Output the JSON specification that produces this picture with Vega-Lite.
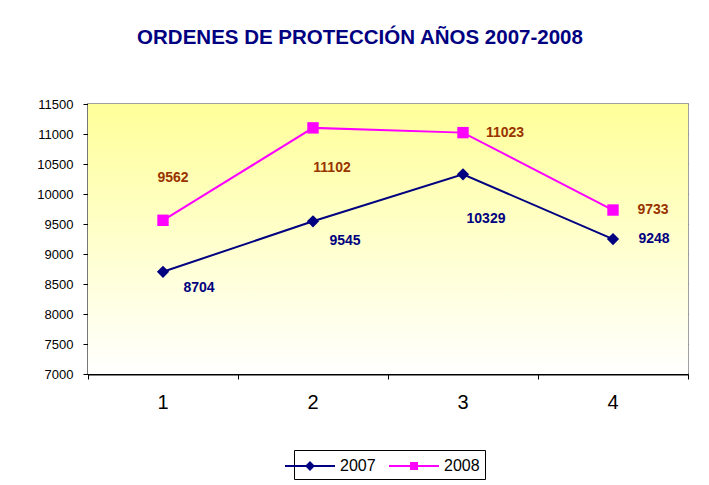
{
  "$schema": "https://vega.github.io/schema/vega-lite/v6.json",
  "width": 600,
  "height": 270,
  "autosize": {"type": "none"},
  "padding": {"left": 88, "top": 104, "right": 21, "bottom": 111},
  "background": "#FFFFFF",
  "config": {
    "font": "Liberation Sans",
    "view": {"stroke": "#A0A0A0", "strokeWidth": 2}
  },
  "title": {
    "text": "ORDENES DE PROTECCIÓN AÑOS 2007-2008",
    "font": "Liberation Sans",
    "fontSize": 20.5,
    "fontWeight": "bold",
    "color": "#000080",
    "anchor": "middle",
    "dx": -28,
    "baseline": "alphabetic",
    "offset": 34
  },
  "data": {
    "values": [
      {"x": "1", "serie": "2007", "valor": 8704},
      {"x": "2", "serie": "2007", "valor": 9545},
      {"x": "3", "serie": "2007", "valor": 10329},
      {"x": "4", "serie": "2007", "valor": 9248},
      {"x": "1", "serie": "2008", "valor": 9562},
      {"x": "2", "serie": "2008", "valor": 11102},
      {"x": "3", "serie": "2008", "valor": 11023},
      {"x": "4", "serie": "2008", "valor": 9733}
    ]
  },
  "encoding": {
    "x": {
      "field": "x",
      "type": "ordinal",
      "scale": {"type": "band", "paddingInner": 0, "paddingOuter": 0},
      "axis": {
        "title": null,
        "labelAngle": 0,
        "labelFontSize": 20,
        "labelColor": "#000000",
        "labelPadding": 13,
        "bandPosition": 1,
        "tickExtra": true,
        "labelOffset": 0,
        "tickSize": 5,
        "tickColor": "#000000",
        "domainColor": "#000000",
        "domainWidth": 2,
        "grid": false
      }
    },
    "y": {
      "field": "valor",
      "type": "quantitative",
      "scale": {"domain": [7000, 11500], "nice": false, "zero": false},
      "axis": {
        "title": null,
        "values": [7000, 7500, 8000, 8500, 9000, 9500, 10000, 10500, 11000, 11500],
        "format": "d",
        "labelFontSize": 13,
        "labelColor": "#000000",
        "labelPadding": 10,
        "tickSize": 5,
        "tickColor": "#000000",
        "domainColor": "#000000",
        "domainWidth": 1.5,
        "grid": true,
        "gridColor": "#787878",
        "gridOpacity": 1,
        "gridWidth": 1
      }
    }
  },
  "layer": [
    {
      "mark": {
        "type": "rect",
        "color": {
          "gradient": "linear",
          "x1": 0, "y1": 0, "x2": 0, "y2": 1,
          "stops": [
            {"offset": 0, "color": "#FFFF99"},
            {"offset": 1, "color": "#FFFFFF"}
          ]
        }
      },
      "encoding": {"x": null, "y": null}
    },
    {
      "mark": {"type": "line", "strokeWidth": 2},
      "encoding": {
        "color": {
          "field": "serie",
          "type": "nominal",
          "scale": {"domain": ["2007", "2008"], "range": ["#000080", "#FF00FF"]},
          "legend": {
            "title": null, "orient": "none", "direction": "horizontal",
            "legendX": 206, "legendY": 346,
            "strokeColor": "#000000", "fillColor": "#FFFFFF", "padding": 5,
            "labelFontSize": 16, "labelColor": "#000000", "labelFont": "Liberation Sans",
            "symbolSize": 400, "symbolStrokeWidth": 2, "symbolOpacity": 1,
            "labelOffset": 19, "columnPadding": 9
          }
        }
      }
    },
    {
      "mark": {"type": "point", "filled": false, "opacity": 0, "strokeWidth": 2},
      "encoding": {
        "color": {
          "field": "serie",
          "type": "nominal",
          "legend": {
            "title": null, "orient": "none", "direction": "horizontal",
            "legendX": 206, "legendY": 346,
            "strokeColor": "#000000", "fillColor": "#FFFFFF", "padding": 5,
            "labelFontSize": 16, "labelColor": "#000000", "labelFont": "Liberation Sans",
            "symbolSize": 400, "symbolStrokeWidth": 2, "symbolOpacity": 1,
            "labelOffset": 19, "columnPadding": 9
          }
        },
        "shape": {
          "field": "serie",
          "type": "nominal",
          "scale": {
            "domain": ["2007", "2008"],
            "range": [
              "M-2.5,0H2.5M0,-0.35L0.35,0L0,0.35L-0.35,0ZM0,-0.18L0.18,0L0,0.18L-0.18,0ZM0,-0.35V0.35M-0.35,0H0.35",
              "M-2.5,0H2.5M-0.3,-0.3H0.3V0.3H-0.3ZM-0.15,-0.15H0.15V0.15H-0.15ZM0,-0.3V0.3"
            ]
          },
          "legend": {
            "title": null, "orient": "none", "direction": "horizontal",
            "legendX": 206, "legendY": 346,
            "strokeColor": "#000000", "fillColor": "#FFFFFF", "padding": 5,
            "labelFontSize": 16, "labelColor": "#000000", "labelFont": "Liberation Sans",
            "symbolSize": 400, "symbolStrokeWidth": 2, "symbolOpacity": 1,
            "labelOffset": 19, "columnPadding": 9
          }
        },
        "size": {"value": 400}
      }
    },
    {
      "transform": [{"filter": "datum.serie == '2007'"}],
      "mark": {"type": "point", "filled": true, "opacity": 1, "shape": "diamond", "size": 150, "color": "#000080"}
    },
    {
      "transform": [{"filter": "datum.serie == '2008'"}],
      "mark": {"type": "point", "filled": true, "opacity": 1, "shape": "square", "size": 130, "color": "#FF00FF"}
    },
    {
      "transform": [{"filter": "datum.serie == '2007' && datum.x == '1'"}],
      "mark": {"type": "text", "dx": 36, "dy": 16, "fontSize": 14, "fontWeight": "bold", "color": "#000080", "baseline": "middle"},
      "encoding": {"text": {"field": "valor", "type": "quantitative", "format": "d"}}
    },
    {
      "transform": [{"filter": "datum.serie == '2007' && datum.x == '2'"}],
      "mark": {"type": "text", "dx": 32, "dy": 20, "fontSize": 14, "fontWeight": "bold", "color": "#000080", "baseline": "middle"},
      "encoding": {"text": {"field": "valor", "type": "quantitative", "format": "d"}}
    },
    {
      "transform": [{"filter": "datum.serie == '2007' && datum.x == '3'"}],
      "mark": {"type": "text", "dx": 23, "dy": 45, "fontSize": 14, "fontWeight": "bold", "color": "#000080", "baseline": "middle"},
      "encoding": {"text": {"field": "valor", "type": "quantitative", "format": "d"}}
    },
    {
      "transform": [{"filter": "datum.serie == '2007' && datum.x == '4'"}],
      "mark": {"type": "text", "dx": 41, "dy": 0, "fontSize": 14, "fontWeight": "bold", "color": "#000080", "baseline": "middle"},
      "encoding": {"text": {"field": "valor", "type": "quantitative", "format": "d"}}
    },
    {
      "transform": [{"filter": "datum.serie == '2008' && datum.x == '1'"}],
      "mark": {"type": "text", "dx": 10, "dy": -42, "fontSize": 14, "fontWeight": "bold", "color": "#993300", "baseline": "middle"},
      "encoding": {"text": {"field": "valor", "type": "quantitative", "format": "d"}}
    },
    {
      "transform": [{"filter": "datum.serie == '2008' && datum.x == '2'"}],
      "mark": {"type": "text", "dx": 19, "dy": 40, "fontSize": 14, "fontWeight": "bold", "color": "#993300", "baseline": "middle"},
      "encoding": {"text": {"field": "valor", "type": "quantitative", "format": "d"}}
    },
    {
      "transform": [{"filter": "datum.serie == '2008' && datum.x == '3'"}],
      "mark": {"type": "text", "dx": 42, "dy": 0, "fontSize": 14, "fontWeight": "bold", "color": "#993300", "baseline": "middle"},
      "encoding": {"text": {"field": "valor", "type": "quantitative", "format": "d"}}
    },
    {
      "transform": [{"filter": "datum.serie == '2008' && datum.x == '4'"}],
      "mark": {"type": "text", "dx": 40, "dy": 0, "fontSize": 14, "fontWeight": "bold", "color": "#993300", "baseline": "middle"},
      "encoding": {"text": {"field": "valor", "type": "quantitative", "format": "d"}}
    }
  ]
}
